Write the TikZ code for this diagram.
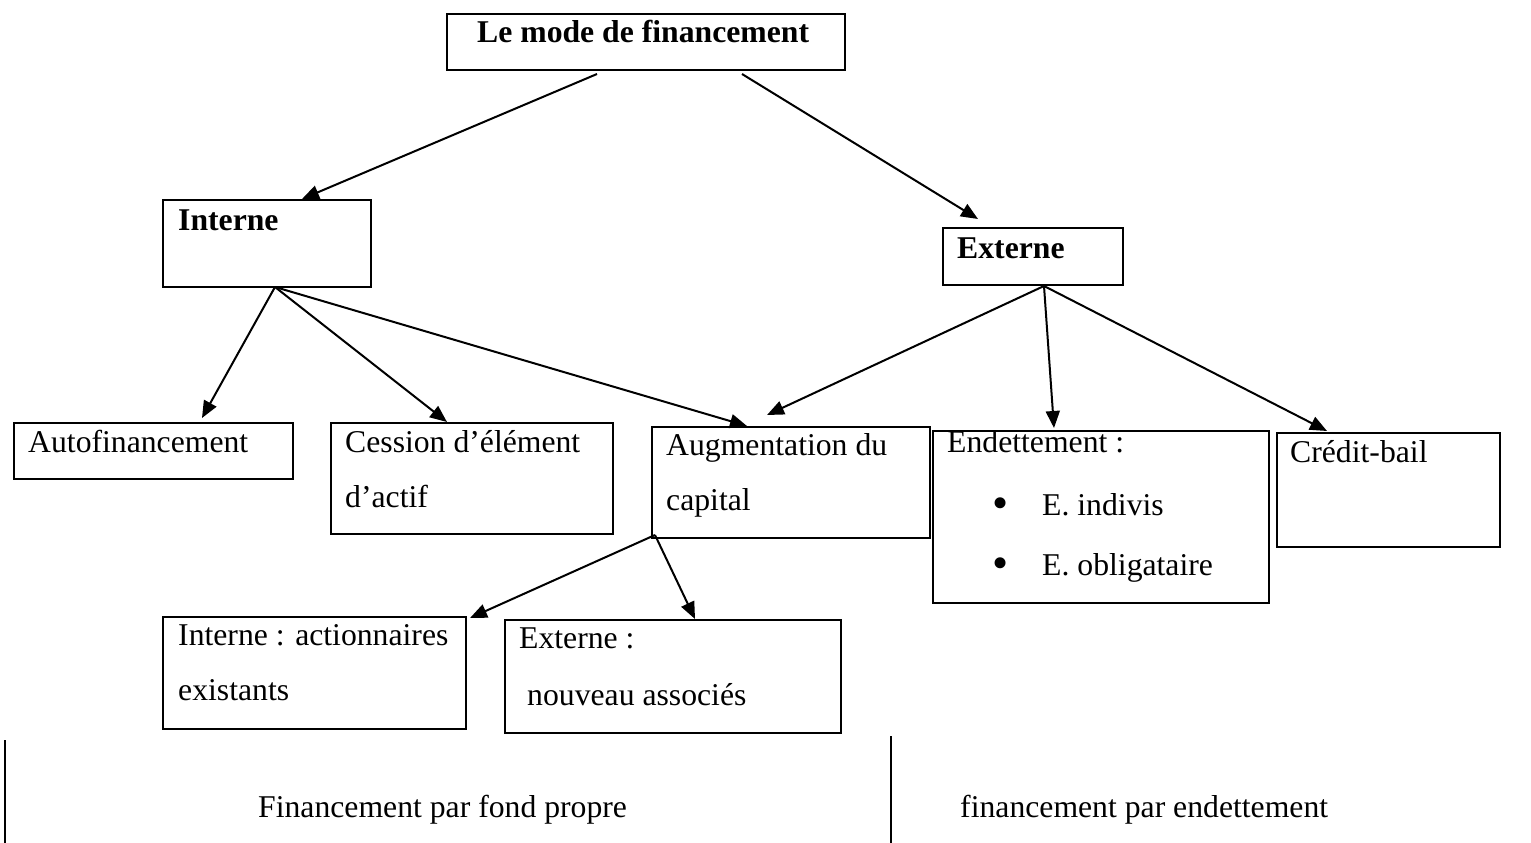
\documentclass[tikz,border=0pt]{standalone}
\usepackage{fontspec}
\setmainfont{Liberation Serif}
\usetikzlibrary{arrows.meta,calc}
\begin{document}
\begin{tikzpicture}[x=1pt,y=-1pt,
  box/.style={draw, line width=2pt, rectangle, anchor=north west, inner sep=0pt},
  txt/.style={anchor=base west, inner sep=0pt, font=\fontsize{31.7}{38}\selectfont},
  btxt/.style={anchor=base west, inner sep=0pt, font=\fontsize{31.7}{38}\selectfont\bfseries},
  bul/.style={anchor=base, inner sep=0pt, font=\fontsize{46}{50}\selectfont},
  arr/.style={line width=2pt, -{Triangle[length=17pt,width=14pt]}},
  sepline/.style={line width=1.5pt}]
\useasboundingbox (0,0) rectangle (1531,843);

% boxes
\node[box, minimum width=398pt, minimum height=56pt] (top)  at (446,13)  {};
\node[box, minimum width=208pt, minimum height=87pt] (int)  at (162,199) {};
\node[box, minimum width=180pt, minimum height=57pt] (ext)  at (942,227) {};
\node[box, minimum width=279pt, minimum height=56pt] (auto) at (13,422)  {};
\node[box, minimum width=282pt, minimum height=111pt] (cess) at (330,422) {};
\node[box, minimum width=278pt, minimum height=111pt] (aug)  at (651,426) {};
\node[box, minimum width=336pt, minimum height=172pt] (endt) at (932,430) {};
\node[box, minimum width=223pt, minimum height=114pt] (cred) at (1276,432) {};
\node[box, minimum width=303pt, minimum height=112pt] (iact) at (162,616) {};
\node[box, minimum width=336pt, minimum height=113pt] (enew) at (504,619) {};

% texts
\node[btxt] (tTop) at (477,43) {Le mode de financement};
\node[btxt] (tInt) at (178,230) {Interne};
\node[btxt] (tExt) at (957,258) {Externe};
\node[txt] (tAuto) at (28,452) {Autofinancement};
\node[txt] (tCess1) at (345,452) {Cession d’élément};
\node[txt] (tCess2) at (345,507) {d’actif};
\node[txt] (tAug1) at (666,455) {Augmentation du};
\node[txt] (tAug2) at (666,510) {capital};
\node[txt] (tEnd) at (947,452) {Endettement :};
\node[bul] (b1) at (1001,518) {•};
\node[txt] (tEnd1) at (1042,515) {E. indivis};
\node[bul] (b2) at (1001,578) {•};
\node[txt] (tEnd2) at (1042,575) {E. obligataire};
\node[txt] (tCred) at (1290,462) {Crédit-bail};
\node[txt] (tIact1) at (178,645) {Interne : actionnaires};
\node[txt] (tIact2) at (178,700) {existants};
\node[txt] (tEnew1) at (519,648) {Externe :};
\node[txt] (tEnew2) at (527,705) {nouveau associés};
\node[txt] (tFP) at (258,817) {Financement par fond propre};
\node[txt] (tFE) at (960,817) {financement par endettement};

% connector end points
\coordinate (topL) at (597,74);
\coordinate (topR) at (742,74);
\coordinate (intO) at (275,287);
\coordinate (extO) at (1044,286);
\coordinate (augO) at (655,535);
\coordinate (extIn) at (978,219);
\coordinate (augIn2) at (767,415);
\coordinate (iactIn) at (470,618);

% connectors
\draw[arr] (topL) -- ($(int.north west)+(140,0)$);
\draw[arr] (topR) -- (extIn);
\draw[arr] (intO) -- ($(auto.north west)+(189,-4)$);
\draw[arr] (intO) -- ($(cess.north west)+(117,0)$);
\draw[arr] (intO) -- ($(aug.north west)+(96,0)$);
\draw[arr] (extO) -- (augIn2);
\draw[arr] (extO) -- ($(endt.north west)+(122,-2)$);
\draw[arr] (extO) -- ($(cred.north west)+(51,-1)$);
\draw[arr] (augO) -- (iactIn);
\draw[arr] (augO) -- ($(enew.north west)+(191,0)$);

% separators
\draw[sepline] (5,740) -- (5,843);
\draw[sepline] (891,736) -- (891,843);
\end{tikzpicture}
\end{document}
